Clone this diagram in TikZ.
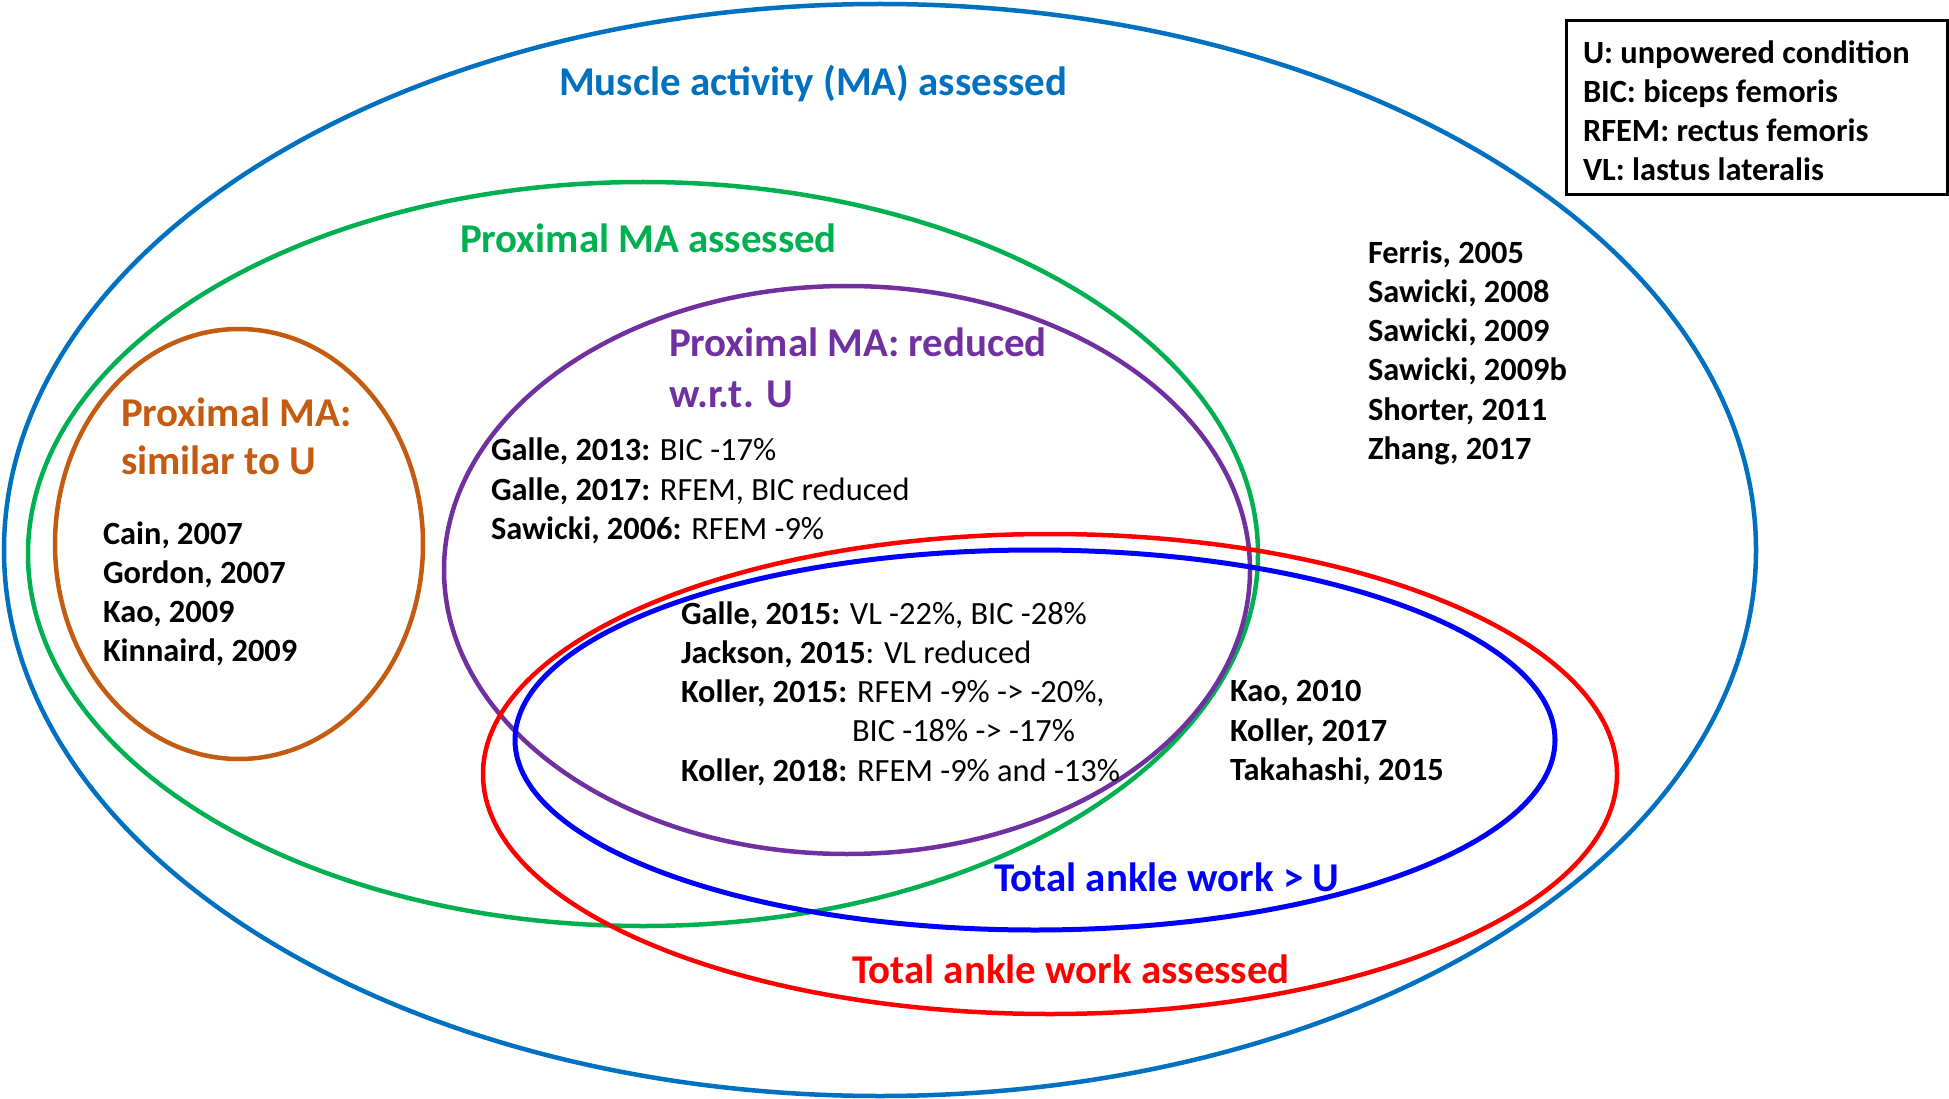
\documentclass[tikz,border=0pt]{standalone}
\usepackage{fontspec}
\setmainfont{Carlito}
\definecolor{mablue}{HTML}{0070C0}
\definecolor{magreen}{HTML}{00B050}
\definecolor{mapurple}{HTML}{7030A0}
\definecolor{maorange}{HTML}{C55A11}
\definecolor{mared}{HTML}{FF0000}
\definecolor{mainblue}{HTML}{0000FF}
\begin{document}
\begin{tikzpicture}[x=1pt,y=-1pt,
  every node/.style={inner sep=0pt,outer sep=0pt,anchor=base west,yshift=-2.5pt},
  lbl/.style={font=\fontsize{32.4pt}{39pt}\selectfont},
  ttl/.style={font=\bfseries\fontsize{40.9pt}{50pt}\selectfont},
  ring/.style={line width=4.5pt}]
\useasboundingbox (0,0) rectangle (1949,1099);
% ellipses
\draw[ring,mablue] (880,550) ellipse [x radius=876pt, y radius=546pt];
\draw[ring,magreen] (643,554) ellipse [x radius=615pt, y radius=372pt];
\draw[ring,maorange] (239,544) ellipse [x radius=184pt, y radius=215pt];
\draw[ring,mapurple] (847,570) ellipse [x radius=403pt, y radius=284pt];
\draw[ring,mared] (1050,774) ellipse [x radius=567pt, y radius=240pt];
\draw[ring,mainblue,line width=5pt] (1035,740) ellipse [x radius=520pt, y radius=190pt];
% titles
\node[ttl,text=mablue] (tma) at (559,93) {Muscle activity (MA) assessed};
\node[ttl,text=magreen] (tgr) at (460,250) {Proximal MA assessed};
\node[ttl,text=mapurple] (tpu1) at (669,354) {Proximal MA: reduced};
\node[ttl,text=mapurple] (tpu2) at (669,405) {w.r.t. U};
\node[ttl,text=maorange] (tor1) at (121,424) {Proximal MA:};
\node[ttl,text=maorange] (tor2) at (121,472) {similar to U};
\node[ttl,text=mainblue] (tbl) at (994,889) {Total ankle work > U};
\node[ttl,text=mared] (tre) at (852,981) {Total ankle work assessed};
% orange list
\node[lbl] (o1) at (103,542) {\textbf{Cain, 2007}};
\node[lbl] (o2) at (103,581) {\textbf{Gordon, 2007}};
\node[lbl] (o3) at (103,620) {\textbf{Kao, 2009}};
\node[lbl] (o4) at (103,659) {\textbf{Kinnaird, 2009}};
% purple list
\node[lbl] (p1) at (491,458) {\textbf{Galle, 2013:} BIC -17\%};
\node[lbl] (p2) at (491,498) {\textbf{Galle, 2017:} RFEM, BIC reduced};
\node[lbl] (p3) at (491,537) {\textbf{Sawicki, 2006:} RFEM -9\%};
% intersection list
\node[lbl] (i1) at (681,622) {\textbf{Galle, 2015:} VL -22\%, BIC -28\%};
\node[lbl] (i2) at (681,661) {\textbf{Jackson, 2015}: VL reduced};
\node[lbl] (i3) at (681,700) {\textbf{Koller, 2015:} RFEM -9\% -> -20\%,};
\node[lbl] (i4) at (852,739) {BIC -18\% -> -17\%};
\node[lbl] (i5) at (681,779) {\textbf{Koller, 2018:} RFEM -9\% and -13\%};
% outer list
\node[lbl] (f1) at (1368,261) {\textbf{Ferris, 2005}};
\node[lbl] (f2) at (1368,300) {\textbf{Sawicki, 2008}};
\node[lbl] (f3) at (1368,339) {\textbf{Sawicki, 2009}};
\node[lbl] (f4) at (1368,378) {\textbf{Sawicki, 2009b}};
\node[lbl] (f5) at (1368,418) {\textbf{Shorter, 2011}};
\node[lbl] (f6) at (1368,457) {\textbf{Zhang, 2017}};
% red-only list
\node[lbl] (k1) at (1230,699) {\textbf{Kao, 2010}};
\node[lbl] (k2) at (1230,739) {\textbf{Koller, 2017}};
\node[lbl] (k3) at (1230,778) {\textbf{Takahashi, 2015}};
% legend
\draw[line width=3pt] (1566,21) rectangle (1947,195);
\node[lbl] (l1) at (1583,61) {\textbf{U: unpowered condition}};
\node[lbl] (l2) at (1583,100) {\textbf{BIC: biceps femoris}};
\node[lbl] (l3) at (1583,139) {\textbf{RFEM: rectus femoris}};
\node[lbl] (l4) at (1583,178) {\textbf{VL: lastus lateralis}};
\end{tikzpicture}
\end{document}
